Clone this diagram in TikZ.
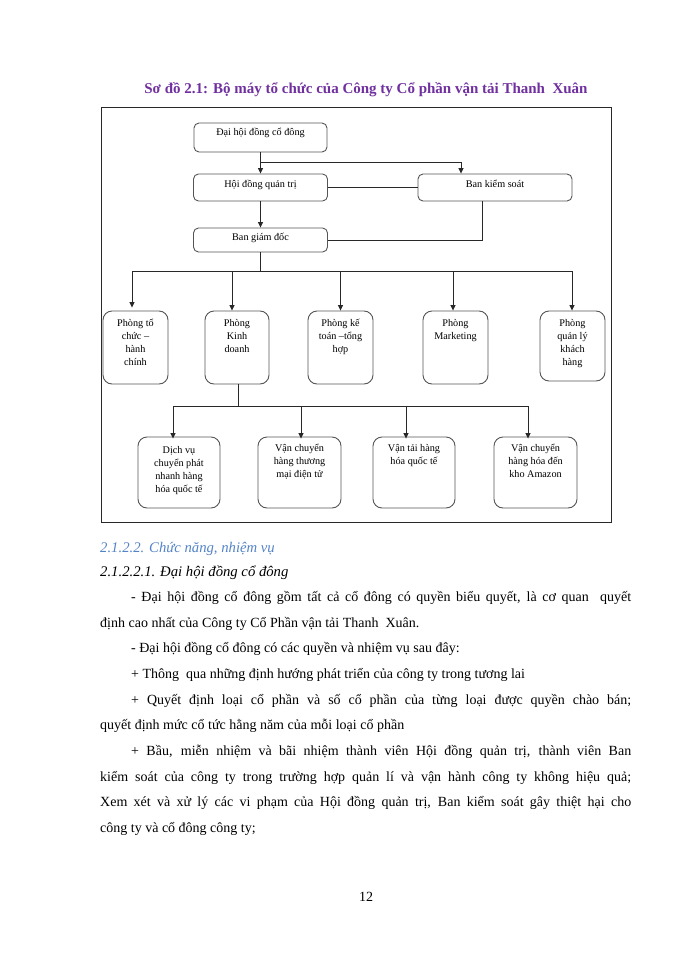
\documentclass[tikz,border=0pt]{standalone}
\usepackage{fontspec}
\setmainfont{Liberation Serif}
\usetikzlibrary{arrows.meta}
\definecolor{titlepurple}{RGB}{112,48,160}
\definecolor{headblue}{RGB}{84,132,200}
\definecolor{linegray}{RGB}{40,40,40}
\definecolor{boxgray}{RGB}{85,85,85}
\newcommand{\bxt}[4]{\parbox[c][#2][t]{#1}{\centering\rule{0pt}{#3}#4}}
\tikzset{
  topbox/.style={draw=boxgray, line width=0.9pt, rounded corners=5pt, inner sep=0pt, font=\fontsize{10.2}{13.3}\selectfont},
  midbox/.style={draw=boxgray, line width=0.9pt, rounded corners=9pt, inner sep=0pt, font=\fontsize{10.2}{13.3}\selectfont},
  conn/.style={draw=linegray, line width=0.8pt},
  arr/.style={conn, -{Triangle[length=5.5pt,width=5pt]}},
  body/.style={anchor=base west, inner sep=0pt, font=\fontsize{14}{25.7}\selectfont},
}
\begin{document}
\begin{tikzpicture}[x=1pt,y=-1pt]
\useasboundingbox (0,0) rectangle (700,960);
\fill[white] (0,0) rectangle (700,960);

% title
\node[anchor=base, inner sep=0pt, text=titlepurple, font=\fontsize{15}{17}\selectfont\bfseries] (title) at (366,94) {Sơ đồ 2.1: Bộ máy tổ chức của Công ty Cổ phần vận tải Thanh \ Xuân};

% frame
\draw[linegray, line width=0.9pt] (101,107) rectangle (611,522);

% top boxes
\node[topbox] (A) at (260.5,137.5) {\bxt{133pt}{29pt}{13pt}{Đại hội đồng cổ đông}};
\node[topbox] (B) at (260.5,187.5) {\bxt{134pt}{27pt}{13pt}{Hội đồng quản trị}};
\node[topbox] (C) at (495,187.5) {\bxt{154pt}{27pt}{13pt}{Ban kiểm soát}};
\node[topbox] (D) at (260.5,240) {\bxt{134pt}{24pt}{12pt}{Ban giám đốc}};

% middle boxes
\node[midbox] (m1) at (135.5,347.5) {\bxt{65pt}{73pt}{15pt}{Phòng tổ\\chức –\\hành\\chính}};
\node[midbox] (m2) at (237,347.5) {\bxt{64pt}{73pt}{15pt}{Phòng\\Kinh\\doanh}};
\node[midbox] (m3) at (340.5,347.5) {\bxt{65pt}{73pt}{15pt}{Phòng kế\\toán –tổng\\hợp}};
\node[midbox] (m4) at (455.5,347.5) {\bxt{65pt}{73pt}{15pt}{Phòng\\Marketing}};
\node[midbox] (m5) at (572.5,346) {\bxt{65pt}{70pt}{15pt}{Phòng\\quản lý\\khách\\hàng}};

% bottom boxes
\node[midbox] (b1) at (179,472.5) {\bxt{82pt}{71pt}{16pt}{Dịch vụ\\chuyển phát\\nhanh hàng\\hóa quốc tế}};
\node[midbox] (b2) at (299.5,472.5) {\bxt{83pt}{71pt}{14pt}{Vận chuyển\\hàng thương\\mại điện tử}};
\node[midbox] (b3) at (414,472.5) {\bxt{82pt}{71pt}{14pt}{Vận tải hàng\\hóa quốc tế}};
\node[midbox] (b4) at (535.5,472.5) {\bxt{83pt}{71pt}{14pt}{Vận chuyển\\hàng hóa đến\\kho Amazon}};

% connectors top
\coordinate (j1) at (260.5,162);
\draw[arr] (A.south) -- (B.north);
\draw[arr] (j1) -| ([xshift=-34pt]C.north);
\draw[conn] (B.east) -- (C.west);
\draw[arr] (B.south) -- (D.north);
\draw[conn] ([xshift=-13pt]C.south) |- (D.east);

% bus 1
\coordinate (bus1) at (260.5,271);
\draw[conn] (D.south) -- (bus1);
\draw[conn] ([xshift=-3.5pt]m1.north |- bus1) -- ([xshift=-0.5pt]m5.north |- bus1);
\draw[arr] ([xshift=-3.5pt]m1.north |- bus1) -- ([xshift=-3.5pt,yshift=3pt]m1.north);
\draw[arr] ([xshift=-5pt]m2.north |- bus1) -- ([xshift=-5pt]m2.north);
\draw[arr] (m3.north |- bus1) -- (m3.north);
\draw[arr] ([xshift=-2.5pt]m4.north |- bus1) -- ([xshift=-2.5pt]m4.north);
\draw[arr] ([xshift=-0.5pt]m5.north |- bus1) -- ([xshift=-0.5pt]m5.north);

% bus 2
\coordinate (bus2) at (238,406);
\draw[conn] ([xshift=1pt]m2.south) -- (bus2);
\draw[conn] ([xshift=-6pt]b1.north |- bus2) -- ([xshift=-7.5pt]b4.north |- bus2);
\draw[arr] ([xshift=-6pt]b1.north |- bus2) -- ([xshift=-6pt,yshift=-2pt]b1.north);
\draw[arr] ([xshift=1.5pt]b2.north |- bus2) -- ([xshift=1.5pt,yshift=-2pt]b2.north);
\draw[arr] ([xshift=-8pt]b3.north |- bus2) -- ([xshift=-8pt,yshift=-2pt]b3.north);
\draw[arr] ([xshift=-7.5pt]b4.north |- bus2) -- ([xshift=-7.5pt,yshift=-2pt]b4.north);

% text below
\node[body, text=headblue, font=\fontsize{14.7}{16}\selectfont\itshape] (h1) at (100,552) {2.1.2.2. Chức năng, nhiệm vụ};
\node[body, font=\fontsize{14.7}{16}\selectfont\itshape] (h2) at (100,576) {2.1.2.2.1. Đại hội đồng cổ đông};
\node[body] (l1) at (131,601) {\makebox[500pt][s]{- Đại hội đồng cổ đông gồm tất cả cổ đông có quyền biểu quyết, là cơ quan \ quyết}};
\node[body] (l2) at (100,627) {định cao nhất của Công ty Cổ Phần vận tải Thanh \ Xuân.};
\node[body] (l3) at (131,652) {- Đại hội đồng cổ đông có các quyền và nhiệm vụ sau đây:};
\node[body] (l4) at (131,678) {+ Thông \ qua những định hướng phát triển của công ty trong tương lai};
\node[body] (l5) at (131,704) {\makebox[500pt][s]{+ Quyết định loại cổ phần và số cổ phần của từng loại được quyền chào bán;}};
\node[body] (l6) at (100,729) {quyết định mức cổ tức hằng năm của mỗi loại cổ phần};
\node[body] (l7) at (131,755) {\makebox[500pt][s]{+ Bầu, miễn nhiệm và bãi nhiệm thành viên Hội đồng quản trị, thành viên Ban}};
\node[body] (l8) at (100,781) {\makebox[531pt][s]{kiểm soát của công ty trong trường hợp quản lí và vận hành công ty không hiệu quả;}};
\node[body] (l9) at (100,806) {\makebox[531pt][s]{Xem xét và xử lý các vi phạm của Hội đồng quản trị, Ban kiểm soát gây thiệt hại cho}};
\node[body] (l10) at (100,832) {công ty và cổ đông công ty;};

\node[anchor=base, inner sep=0pt, font=\fontsize{14}{16}\selectfont] (pg) at (366,901) {12};
\end{tikzpicture}
\end{document}
